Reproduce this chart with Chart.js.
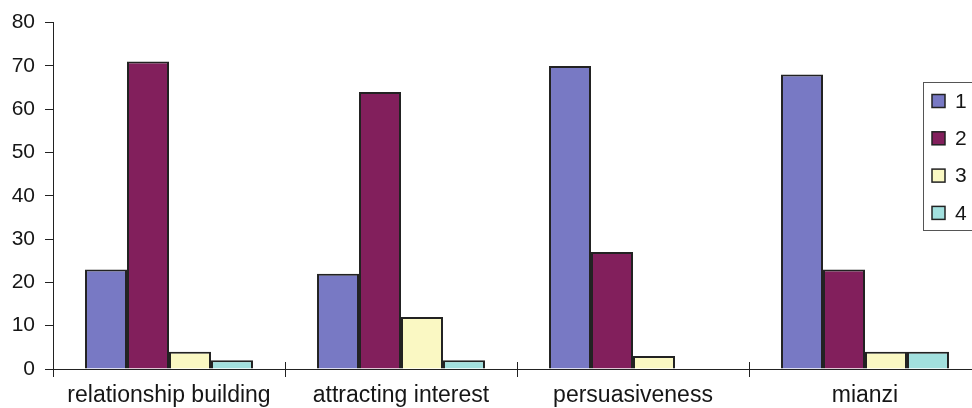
<!DOCTYPE html>
<html>
<head>
<meta charset="utf-8">
<script src="https://cdn.jsdelivr.net/npm/chart.js@4.4.1/dist/chart.umd.min.js"></script>
<style>
  html, body { margin: 0; padding: 0; background: #fff; }
  #wrap { width: 972px; height: 408px; overflow: hidden; position: relative; }
  #chart { display: block; }
</style>
</head>
<body>
<div id="wrap"><canvas id="chart" width="990" height="408"></canvas></div>
<script>
// Categories and the four response groups
const categories = ['relationship building', 'attracting interest', 'persuasiveness', 'mianzi'];
const seriesNames = ['1', '2', '3', '4'];
const series1 = [23, 22, 70, 68];
const series2 = [71, 64, 27, 23];
const series3 = [4, 12, 3, 4];
const series4 = [2, 2, 0, 4];
const yTicks = [0, 10, 20, 30, 40, 50, 60, 70, 80];

const colors = ['#7879c4', '#821f5c', '#faf8c3', '#a2e0de'];
const FONT = "'Liberation Sans', Arial, Helvetica, sans-serif";
const TEXT = '#161616';

const values = [series1, series2, series3, series4];
const datasets = values.map((v, i) => ({
  label: seriesNames[i],
  data: v,
  backgroundColor: colors[i],
  borderColor: '#222',
  borderWidth: 2,
  borderSkipped: 'start'
}));

// Tick marks crossing the category axis at each category boundary
const categoryTicks = {
  id: 'categoryTicks',
  afterDraw(chart) {
    const { ctx, chartArea } = chart;
    const x = chart.scales.x;
    const n = categories.length;
    ctx.save();
    ctx.strokeStyle = '#222';
    ctx.lineWidth = 1;
    for (let i = 0; i <= n; i++) {
      let px;
      if (i === 0) px = chartArea.left;
      else if (i === n) px = chartArea.right;
      else px = (x.getPixelForValue(i - 1) + x.getPixelForValue(i)) / 2;
      px = Math.round(px) + 0.5;
      ctx.beginPath();
      ctx.moveTo(px, chartArea.bottom - 7);
      ctx.lineTo(px, chartArea.bottom + 8);
      ctx.stroke();
    }
    ctx.restore();
  }
};

// Boxed legend sitting over the right edge of the plot
const boxLegend = {
  id: 'boxLegend',
  afterDraw(chart) {
    const { ctx } = chart;
    const left = 923, top = 82, width = 70, height = 148;
    ctx.save();
    ctx.fillStyle = '#fff';
    ctx.fillRect(left, top, width, height);
    ctx.strokeStyle = '#555';
    ctx.lineWidth = 1;
    ctx.strokeRect(left + 0.5, top + 0.5, width, height);
    const firstY = 101, step = 37.3;
    chart.data.datasets.forEach((ds, i) => {
      const cy = firstY + i * step;
      ctx.fillStyle = ds.backgroundColor;
      ctx.fillRect(932, cy - 6.5, 13, 13);
      ctx.strokeStyle = '#222';
      ctx.lineWidth = 1.5;
      ctx.strokeRect(932, cy - 6.5, 13, 13);
      ctx.fillStyle = TEXT;
      ctx.font = '21px ' + FONT;
      ctx.textBaseline = 'middle';
      ctx.textAlign = 'left';
      ctx.fillText(ds.label, 955, cy + 1);
    });
    ctx.restore();
  }
};

new Chart(document.getElementById('chart'), {
  type: 'bar',
  data: { labels: categories, datasets },
  options: {
    responsive: false,
    animation: false,
    devicePixelRatio: 1,
    layout: { padding: { top: 19, right: 9, left: 0, bottom: 0 } },
    datasets: { bar: { categoryPercentage: 0.724, barPercentage: 1.0 } },
    plugins: { legend: { display: false }, tooltip: { enabled: false } },
    scales: {
      x: {
        offset: true,
        grid: { display: false },
        border: { display: true, color: '#222', width: 1 },
        ticks: { color: TEXT, font: { family: FONT, size: 23 }, padding: 5, maxRotation: 0, autoSkip: false },
        afterFit(scale) { scale.height = 39; }
      },
      y: {
        min: 0,
        max: 80,
        afterBuildTicks(scale) { scale.ticks = yTicks.map(v => ({ value: v })); },
        grid: { drawOnChartArea: false, drawTicks: true, tickLength: 8, color: '#222' },
        border: { display: true, color: '#222', width: 1 },
        ticks: { color: TEXT, font: { family: FONT, size: 21 }, padding: 10 },
        afterFit(scale) { scale.width = 53; }
      }
    }
  },
  plugins: [categoryTicks, boxLegend]
});
</script>
</body>
</html>
